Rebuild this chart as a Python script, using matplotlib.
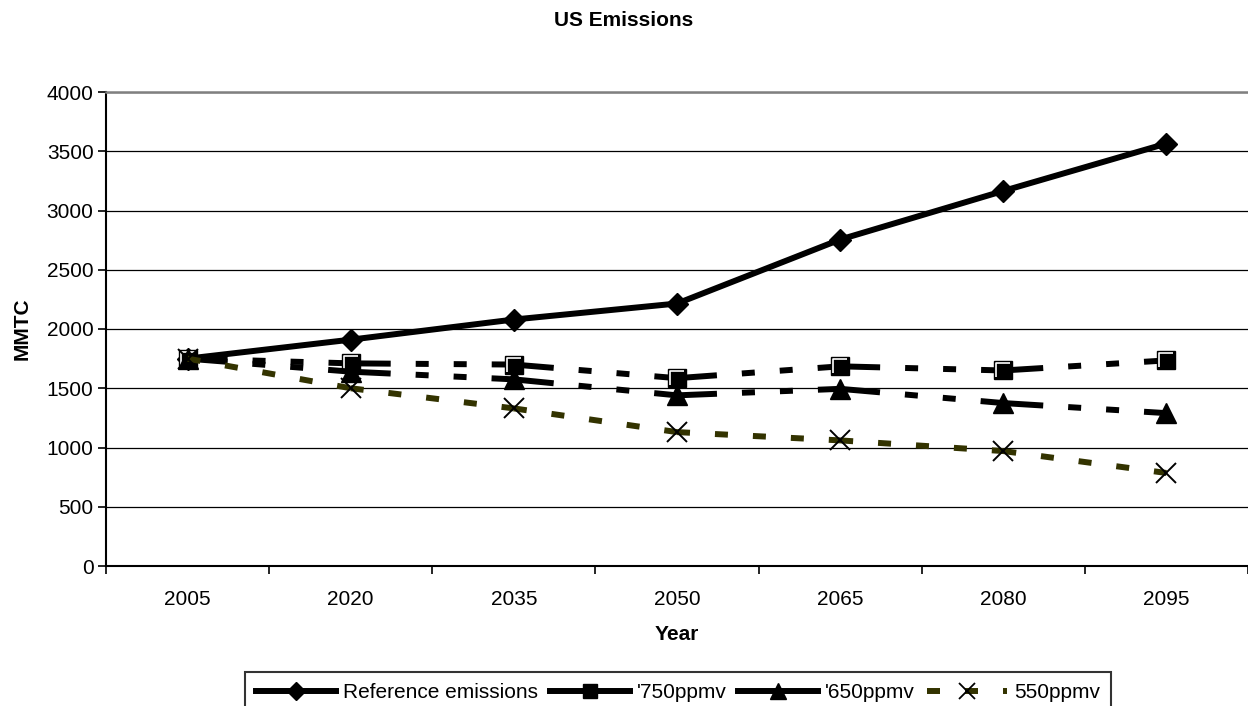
import matplotlib
matplotlib.use("Agg")
import matplotlib.pyplot as plt
import numpy as np
from matplotlib.lines import Line2D
from matplotlib.path import Path

plt.rcParams["font.family"] = ["Liberation Sans", "DejaVu Sans"]
plt.rcParams["lines.scale_dashes"] = False

# ── Data ─────────────────────────────────────────────────────────────
YEARS = ["2005", "2020", "2035", "2050", "2065", "2080", "2095"]
REFERENCE = [1750, 1910, 2080, 2215, 2755, 3165, 3565]
PPMV_750 = [1750, 1710, 1700, 1585, 1685, 1650, 1735]
PPMV_650 = [1750, 1640, 1575, 1440, 1495, 1375, 1290]
PPMV_550 = [1750, 1500, 1330, 1130, 1060, 970, 785]

LABELS = ["Reference emissions", "'750ppmv", "'650ppmv", "550ppmv"]

OLIVE = "#333300"
PX = 0.72  # points per pixel at 100 dpi
FS = 15

# dash patterns in pixels, restarted at every data point
DASH_LONG = tuple(v * PX for v in (40, 25, 13, 25, 13, 25))
DASH_SHORT = tuple(v * PX for v in (13, 25))

# white highlight on the top/left of the square markers
HILITE = Path([(-0.5, -0.5), (-0.5, 0.5), (0.5, 0.5)],
              [Path.MOVETO, Path.LINETO, Path.LINETO])

fig = plt.figure(figsize=(12.48, 7.06), dpi=100)
ax = fig.add_axes([106 / 1248, 1 - 566 / 706, 1 - 106 / 1248, (566 - 92) / 706])

x = np.arange(len(YEARS))
LW = 4.3


def draw_series(vals, color, dashes, z):
    if dashes is None:
        ax.plot(x, vals, color=color, lw=LW, solid_capstyle="butt", zorder=z)
    else:
        for i in range(len(vals) - 1):
            ax.plot(x[i:i + 2], vals[i:i + 2], color=color, lw=LW,
                    linestyle=(0, dashes), dash_capstyle="butt", zorder=z)


draw_series(REFERENCE, "black", None, 3)
ax.plot(x, REFERENCE, ls="none", marker="D", ms=11.5, mfc="black", mec="black",
        zorder=3.5)

draw_series(PPMV_750, "black", DASH_LONG, 4)
ax.plot(x, PPMV_750, ls="none", marker="s", ms=13.5, mfc="black", mec="black",
        mew=1, zorder=4.5)
ax.plot(x, PPMV_750, ls="none", marker=HILITE, ms=9.5, mfc="none", mec="white",
        mew=1.2, zorder=4.6)

draw_series(PPMV_650, "black", DASH_LONG, 5)
ax.plot(x, PPMV_650, ls="none", marker="^", ms=14, mfc="black", mec="black",
        zorder=5.5)

draw_series(PPMV_550, OLIVE, DASH_SHORT, 6)
ax.plot(x, PPMV_550, ls="none", marker="x", ms=15, mec="black", mew=1.4,
        zorder=6.5)

# axes
ax.set_xlim(-0.5, len(YEARS) - 0.5)
ax.set_ylim(0, 4000)
ax.set_yticks(np.arange(0, 4001, 500))
ax.set_xticks(np.arange(-0.5, len(YEARS)), labels=[""] * (len(YEARS) + 1))
ax.set_xticks(x, labels=YEARS, minor=True)
ax.tick_params(axis="x", which="major", length=6, width=1.2, direction="out")
ax.tick_params(axis="x", which="minor", length=0, pad=17, labelsize=FS)
ax.tick_params(axis="y", length=6, width=1.2, direction="out", pad=3,
               labelsize=FS)
ax.grid(axis="y", color="black", lw=0.9, zorder=0)
ax.set_axisbelow(True)

ax.spines["right"].set_visible(False)
ax.spines["top"].set_color("#808080")
ax.spines["top"].set_linewidth(1.8)
ax.spines["left"].set_linewidth(1.5)
ax.spines["bottom"].set_linewidth(1.5)

ax.set_xlabel("Year", fontsize=FS, fontweight="bold", labelpad=12)
ax.set_ylabel("MMTC", fontsize=FS, fontweight="bold", labelpad=11)
fig.text(0.5, 1 - 20 / 706, "US Emissions", ha="center", va="center",
         fontsize=FS, fontweight="bold")

# legend
handles = [
    Line2D([], [], color="black", lw=LW, marker="D", ms=9, mfc="black",
           mec="black"),
    Line2D([], [], color="black", lw=LW, marker="s", ms=10, mfc="black",
           mec="black"),
    Line2D([], [], color="black", lw=LW, marker="^", ms=11, mfc="black",
           mec="black"),
    Line2D([], [], color=OLIVE, lw=LW, linestyle=(0, DASH_SHORT),
           marker="x", ms=12, mec="black", mew=1.3),
]
leg = fig.legend(handles, LABELS, loc="upper center",
                 bbox_to_anchor=(678 / 1248, 1 - 672 / 706), ncol=4,
                 fontsize=FS, frameon=True, fancybox=False, edgecolor="black",
                 handlelength=3.84, handletextpad=0.34, columnspacing=0.55,
                 borderpad=0.55, borderaxespad=0, numpoints=1)
leg.get_frame().set_linewidth(1.5)

fig.savefig("out.png", dpi=100)
